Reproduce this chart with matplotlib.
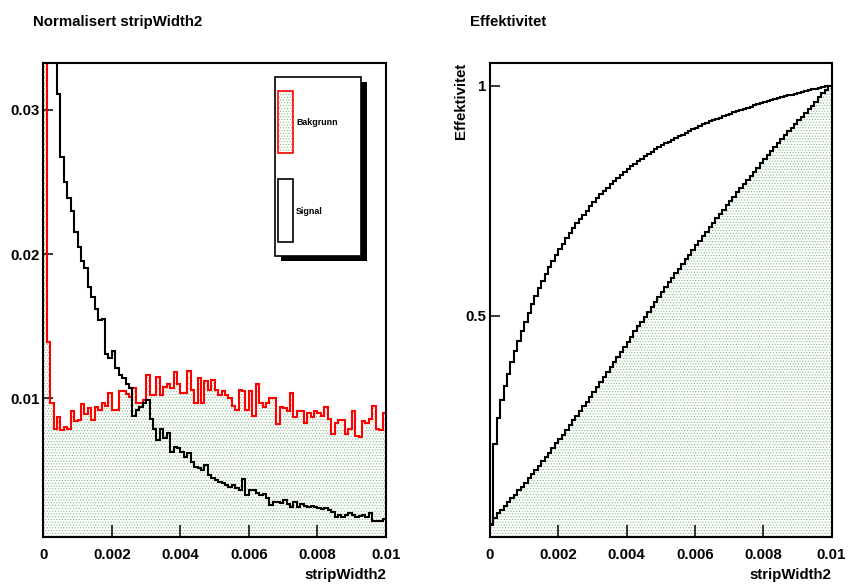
import numpy as np
import matplotlib
matplotlib.use('Agg')
import matplotlib.pyplot as plt
from matplotlib.patches import Rectangle

plt.rcParams['font.family'] = ['Liberation Sans', 'DejaVu Sans']
plt.rcParams['font.weight'] = 'bold'
plt.rcParams['hatch.linewidth'] = 0.5

# ---------------- data ----------------
x_min, x_max = 0.0, 0.01
n_bins = 100

bakgrunn = [
    0.046, 0.0139, 0.00965, 0.0079, 0.0087, 0.0078, 0.0080, 0.0079, 0.0091, 0.0084,
    0.0085, 0.0096, 0.0089, 0.0093, 0.0085, 0.0094, 0.0092, 0.0097, 0.0095, 0.0104,
    0.0092, 0.0092, 0.0105, 0.0105, 0.0103, 0.0101, 0.0107, 0.0097, 0.0097, 0.0099,
    0.0116, 0.0102, 0.0102, 0.0115, 0.0102, 0.0108, 0.0110, 0.0107, 0.0118, 0.0110,
    0.0104, 0.0104, 0.0119, 0.0106, 0.0097, 0.0114, 0.0097, 0.0112, 0.0106, 0.0113,
    0.0106, 0.0102, 0.0105, 0.0102, 0.0100, 0.0095, 0.0092, 0.0106, 0.0105, 0.0092,
    0.0105, 0.0088, 0.0110, 0.0097, 0.0094, 0.0097, 0.0100, 0.0100, 0.0082, 0.0094,
    0.0093, 0.0091, 0.0104, 0.0087, 0.0091, 0.0091, 0.0083, 0.0090, 0.0087, 0.0091,
    0.0090, 0.0088, 0.0094, 0.0086, 0.0075, 0.0083, 0.0085, 0.0085, 0.0075, 0.0079,
    0.0091, 0.0074, 0.0073, 0.0084, 0.0083, 0.0086, 0.0095, 0.0079, 0.0078, 0.0090,
]

signal = [
    0.045, 0.178, 0.057, 0.040, 0.0311, 0.0267, 0.0250, 0.0239, 0.0230, 0.0215,
    0.0205, 0.0195, 0.0190, 0.0177, 0.0170, 0.0162, 0.0154, 0.0155, 0.0131, 0.0128,
    0.0133, 0.0121, 0.0116, 0.0114, 0.0110, 0.0107, 0.0088, 0.0092, 0.0094, 0.0097,
    0.0099, 0.0086, 0.0079, 0.00711, 0.00785, 0.00723, 0.00757, 0.0063, 0.00665, 0.00654,
    0.0063, 0.00595, 0.00619, 0.00561, 0.00526, 0.00515, 0.00503, 0.00538, 0.00468, 0.00446,
    0.00434, 0.00422, 0.00411, 0.00399, 0.00383, 0.00399, 0.00376, 0.00364, 0.00439, 0.0033,
    0.00364, 0.00364, 0.00342, 0.0033, 0.00337, 0.00307, 0.00261, 0.00284, 0.00284, 0.00272,
    0.00295, 0.00268, 0.00245, 0.00284, 0.00249, 0.00268, 0.00254, 0.00245, 0.00254, 0.00245,
    0.00238, 0.00231, 0.00238, 0.00226, 0.00214, 0.0018, 0.00191, 0.0018, 0.00191, 0.00203,
    0.00191, 0.0018, 0.00184, 0.00191, 0.00175, 0.00207, 0.00152, 0.00152, 0.00152, 0.00161,
]

x_ticks = [0, 0.002, 0.004, 0.006, 0.008, 0.01]
x_ticklabels = ['0', '0.002', '0.004', '0.006', '0.008', '0.01']
left_yticks = [0.01, 0.02, 0.03]
left_yticklabels = ['0.01', '0.02', '0.03']
right_yticks = [0.5, 1.0]
right_yticklabels = ['0.5', '1']

left_title = 'Normalisert stripWidth2'
right_title = 'Effektivitet'
x_title = 'stripWidth2'
right_ytitle = 'Effektivitet'
legend_labels = ['Bakgrunn', 'Signal']

# ---------------- derived ----------------
edges = np.linspace(x_min, x_max, n_bins + 1)
bkg = np.asarray(bakgrunn)
sig = np.asarray(signal)
eff_bkg = np.cumsum(bkg) / bkg.sum()
eff_sig = np.cumsum(sig) / sig.sum()

left_ylim = (0.00037, 0.03326)
right_ylim = (0.018, 1.05)

W, H = 848, 584
fig = plt.figure(figsize=(W / 100, H / 100), dpi=100)


def rect(l, t, r, b):
    return [l / W, 1 - b / H, (r - l) / W, (b - t) / H]


ax1 = fig.add_axes(rect(43.3, 62.7, 386, 537.3))
ax2 = fig.add_axes(rect(490, 62.7, 831.5, 537.3))

hatch_col = '#86bb86'
fill_kw = dict(fill=True, facecolor='white', edgecolor=hatch_col, hatch='......', linewidth=0)

# left panel
ax1.stairs(bkg, edges, baseline=left_ylim[0], zorder=1, **fill_kw)
ax1.stairs(bkg, edges, baseline=left_ylim[0], color='red', linewidth=1.5, zorder=2)
ax1.stairs(sig, edges, baseline=None, color='black', linewidth=1.5, zorder=3)
ax1.axhline(left_ylim[0], color='red', linewidth=1.5, zorder=4)
ax1.axvline(x_max, color='red', linewidth=2.0, zorder=4)
ax1.set_xlim(x_min, x_max)
ax1.set_ylim(*left_ylim)
ax1.set_yticks(left_yticks, left_yticklabels)

# right panel
ax2.stairs(eff_bkg, edges, baseline=right_ylim[0], zorder=1, **fill_kw)
ax2.stairs(eff_bkg, edges, baseline=None, color='black', linewidth=1.5, zorder=2)
ax2.stairs(eff_sig, edges, baseline=None, color='black', linewidth=1.5, zorder=3)
ax2.axhline(right_ylim[0], color='red', linewidth=1.5, zorder=4)
ax2.axvline(x_max, color='red', linewidth=2.0, zorder=4)
ax2.set_xlim(x_min, x_max)
ax2.set_ylim(*right_ylim)
ax2.set_yticks(right_yticks, right_yticklabels)

for ax in (ax1, ax2):
    ax.set_xticks(x_ticks, x_ticklabels)
    ax.tick_params(axis='x', direction='in', length=9, width=1.1, pad=8,
                   labelsize=10.8, top=False)
    ax.tick_params(axis='y', direction='in', length=7.5, width=1.1, pad=2.5,
                   labelsize=10.8, right=False)
    ax.minorticks_off()
    for s in ax.spines.values():
        s.set_linewidth(1.5)
        s.set_zorder(5)
    ax.set_xlabel(x_title, fontsize=10.8, fontweight='bold', ha='right')
    ax.xaxis.set_label_coords(1.0, -0.064)
    ax.xaxis.label.set_va('top')

ax2.text(-0.085, 1.0, right_ytitle, rotation=90, ha='center', va='top',
         fontsize=10.8, fontweight='bold', transform=ax2.transAxes)

fig.text(33 / W, 1 - 22 / H, left_title, ha='left', va='center', fontsize=10.8, fontweight='bold')
fig.text(470 / W, 1 - 22 / H, right_title, ha='left', va='center', fontsize=10.8, fontweight='bold')

# legend (ROOT style box with shadow)
def frect(l, t, r, b, **kw):
    p = Rectangle((l / W, 1 - b / H), (r - l) / W, (b - t) / H, transform=fig.transFigure, **kw)
    fig.add_artist(p)
    return p

frect(281, 82, 367, 261, facecolor='black', edgecolor='black', linewidth=0, zorder=10)
frect(275, 76.7, 361, 255.7, facecolor='white', edgecolor='black', linewidth=1.2, zorder=11)
frect(278.3, 91, 293.3, 152.7, facecolor='white', edgecolor=hatch_col, hatch='......', linewidth=0, zorder=12)
frect(278.3, 91, 293.3, 152.7, facecolor='none', edgecolor='red', linewidth=1.2, zorder=13)
frect(278.3, 179.3, 293.3, 242.3, facecolor='white', edgecolor='black', linewidth=1.2, zorder=12)
fig.text(296 / W, 1 - 122 / H, legend_labels[0], ha='left', va='center', fontsize=6.4,
         fontweight='bold', zorder=14)
fig.text(296 / W, 1 - 211.5 / H, legend_labels[1], ha='left', va='center', fontsize=6.4,
         fontweight='bold', zorder=14)

fig.savefig('out.png', dpi=100)
